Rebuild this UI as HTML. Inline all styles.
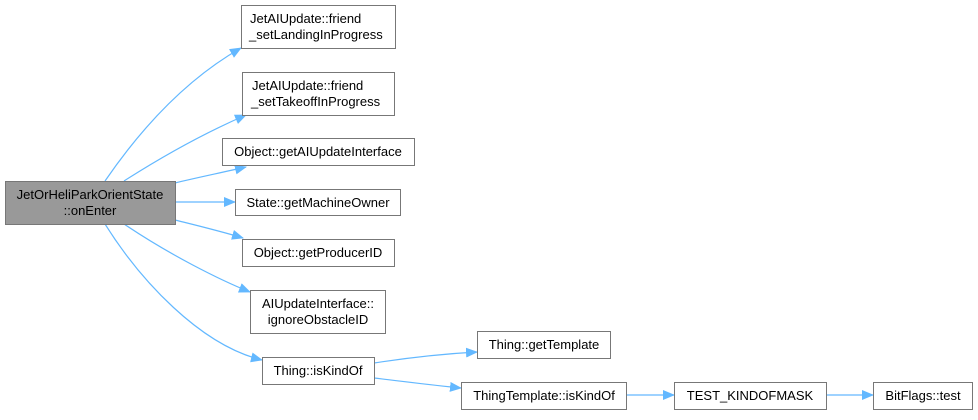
<!DOCTYPE html>
<html><head><meta charset="utf-8"><style>
html,body{margin:0;padding:0;background:#fff;}
svg text{font-family:"Liberation Sans",Arial,sans-serif;font-size:13px;fill:#000;}
</style></head><body>
<svg width="978" height="415" viewBox="0 0 978 415" xmlns="http://www.w3.org/2000/svg">
<defs>
<marker id="a" markerWidth="12" markerHeight="10" refX="11" refY="5" orient="auto" markerUnits="userSpaceOnUse">
<path d="M0,0 L12,5 L0,10 Z" fill="#63b8ff"/>
</marker>
</defs>
<g fill="none" stroke="#63b8ff" stroke-width="1.2" marker-end="url(#a)">
<path d="M105,181 C140,130 185,80 241,48"/>
<path d="M124,181 C160,158 200,135 246,115"/>
<path d="M175,183 C195,178 220,173 246,167"/>
<path d="M175,202 L235,202"/>
<path d="M175,220 C195,225 220,231 243,238"/>
<path d="M124,224 C170,255 220,280 250,292"/>
<path d="M105,224 C140,280 200,345 262,360"/>
<path d="M374,363 C400,359 440,354 477,352"/>
<path d="M374,378 C400,381 430,385 461,388"/>
<path d="M626,395 L674,395"/>
<path d="M826,395 L873,395"/>
</g>
<g stroke="#777" stroke-width="1" fill="#fff">
<rect x="5.5" y="181.5" width="170" height="43" fill="#999"/>
<rect x="241.5" y="5.5" width="154" height="43"/>
<rect x="242.5" y="72.5" width="152" height="43"/>
<rect x="222.5" y="138.5" width="192" height="27"/>
<rect x="235.5" y="189.5" width="165" height="26"/>
<rect x="242.5" y="239.5" width="152" height="27"/>
<rect x="250.5" y="290.5" width="135" height="43"/>
<rect x="262.5" y="357.5" width="112" height="27"/>
<rect x="477.5" y="331.5" width="133" height="27"/>
<rect x="461.5" y="382.5" width="165" height="27"/>
<rect x="674.5" y="382.5" width="152" height="27"/>
<rect x="873.5" y="382.5" width="99" height="27"/>
</g>
<g text-anchor="middle">
<text x="90" y="199">JetOrHeliParkOrientState</text>
<text x="90" y="215">::onEnter</text>
<text x="250" y="23" text-anchor="start">JetAIUpdate::friend</text>
<text x="249" y="39" text-anchor="start">_setLandingInProgress</text>
<text x="252" y="90" text-anchor="start">JetAIUpdate::friend</text>
<text x="251" y="106" text-anchor="start">_setTakeoffInProgress</text>
<text x="318" y="156">Object::getAIUpdateInterface</text>
<text x="318" y="207">State::getMachineOwner</text>
<text x="318" y="257">Object::getProducerID</text>
<text x="318" y="308">AIUpdateInterface::</text>
<text x="318" y="324">ignoreObstacleID</text>
<text x="318" y="375">Thing::isKindOf</text>
<text x="544" y="349">Thing::getTemplate</text>
<text x="544" y="400">ThingTemplate::isKindOf</text>
<text x="750" y="400">TEST_KINDOFMASK</text>
<text x="923" y="400">BitFlags::test</text>
</g>
</svg>
</body></html>
